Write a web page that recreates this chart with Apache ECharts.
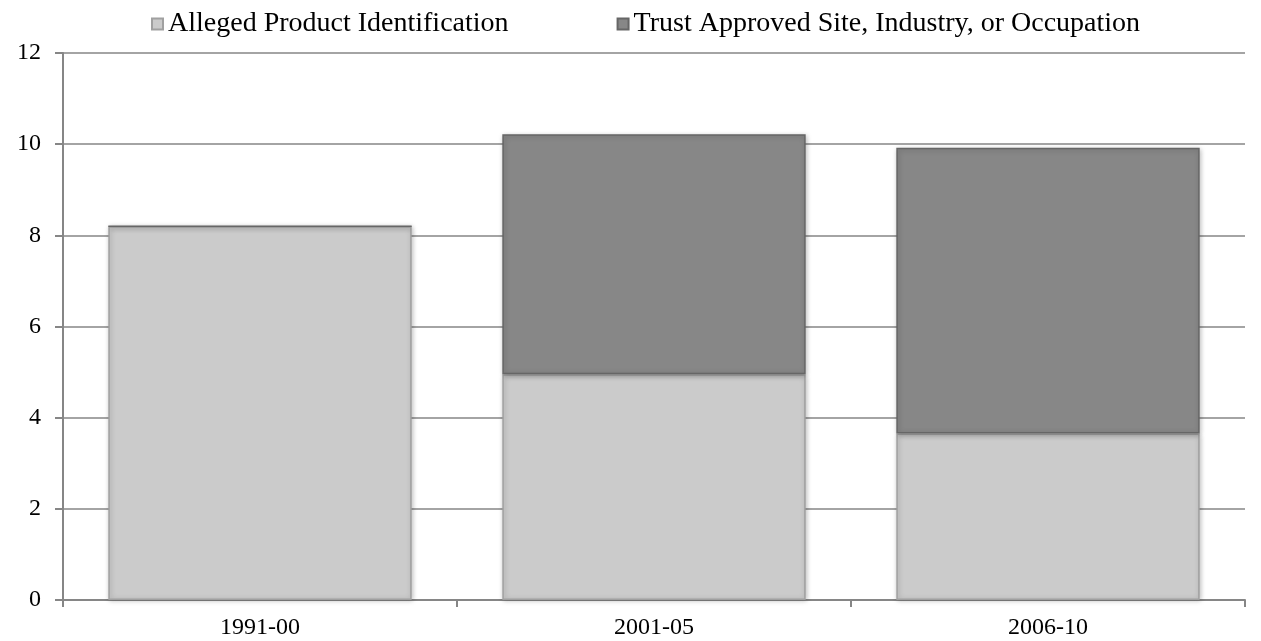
<!DOCTYPE html>
<html>
<head>
<meta charset="utf-8">
<script src="https://cdn.jsdelivr.net/npm/echarts@6/dist/echarts.min.js"></script>
<style>
  html, body { margin: 0; padding: 0; background: #fff; }
  #chart { width: 1261px; height: 641px; }
</style>
</head>
<body>
<div id="chart"></div>
<script>
var categories = ['1991-00', '2001-05', '2006-10'];
var allegedProduct = [8.2, 4.95, 3.65];
var trustApproved = [0, 5.27, 6.27];
var yTicks = { min: 0, max: 12, interval: 2 };

var chart = echarts.init(document.getElementById('chart'));
var font = '"Liberation Serif", "Times New Roman", serif';

function barStyle(color, edge) {
    return {
        color: color,
        borderColor: edge,
        borderWidth: 1.5,
        shadowColor: 'rgba(0,0,0,0.25)',
        shadowBlur: 5,
        shadowOffsetX: 1,
        shadowOffsetY: 1
    };
}

var option = {
    animation: false,
    textStyle: { fontFamily: font },
    legend: {
        top: 5,
        left: 146,
        itemGap: 108,
        itemWidth: 11,
        itemHeight: 11,
        textStyle: { fontFamily: font, fontSize: 28, color: '#000' },
        data: [
            { name: 'Alleged Product Identification', icon: 'rect' },
            { name: 'Trust Approved Site, Industry, or Occupation', icon: 'rect' }
        ]
    },
    grid: {
        left: 63,
        right: 16,
        top: 53,
        bottom: 41
    },
    xAxis: {
        type: 'category',
        data: categories,
        axisLine: { lineStyle: { color: '#868686', width: 2 } },
        axisTick: { show: true, length: 7, lineStyle: { color: '#868686', width: 2 } },
        axisLabel: { color: '#000', fontSize: 24, fontFamily: font, margin: 16 }
    },
    yAxis: {
        type: 'value',
        min: yTicks.min,
        max: yTicks.max,
        interval: yTicks.interval,
        axisLine: { show: true, lineStyle: { color: '#868686', width: 2 } },
        axisTick: { show: true, length: 8, lineStyle: { color: '#868686', width: 2 } },
        axisLabel: { color: '#000', fontSize: 24, fontFamily: font, margin: 22 },
        splitLine: { lineStyle: { color: '#868686', width: 1.5 } }
    },
    series: [
        {
            name: 'Alleged Product Identification',
            type: 'bar',
            stack: 'total',
            barCategoryGap: '23%',
            data: allegedProduct,
            itemStyle: barStyle('#cbcbcb', '#a0a0a0')
        },
        {
            name: 'Trust Approved Site, Industry, or Occupation',
            type: 'bar',
            stack: 'total',
            barCategoryGap: '23%',
            data: trustApproved,
            itemStyle: barStyle('#878787', '#666666')
        }
    ]
};

chart.setOption(option);
</script>
</body>
</html>
